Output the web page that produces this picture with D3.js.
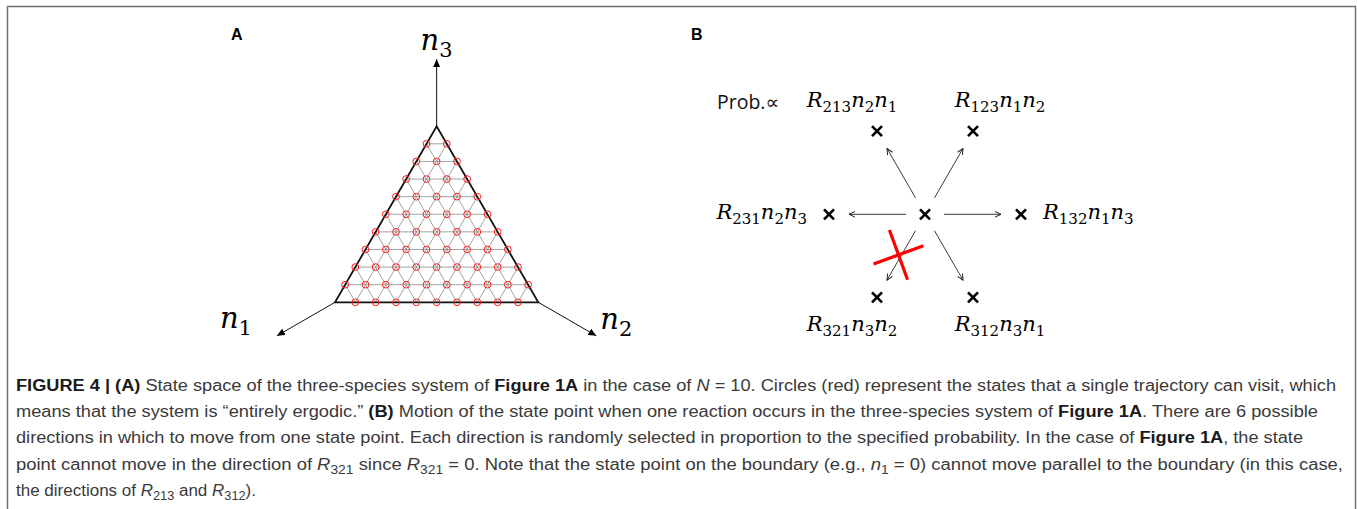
<!DOCTYPE html>
<html>
<head>
<meta charset="utf-8">
<script src="https://cdn.jsdelivr.net/npm/d3@7"></script>
<style>
  body { margin: 0; background: #fff; }
  svg { display: block; }
</style>
</head>
<body>
<svg id="fig" width="1357" height="509"></svg>
<script>
// ---- data ----
var N = 10;
var axisSubs = ["1", "2", "3"];
var excludedStates = [[10, 0, 0], [0, 10, 0], [0, 0, 10]];
var reactions = ["213", "123", "132", "312", "321", "231"];
var directionAngles = [120, 60, 0, -60, -120, 180];
var blockedReaction = "321";

var captionLines = [
    [["FIGURE 4 | (A)", "b"], [" State space of the three-species system of "], ["Figure 1A", "b"],
     [" in the case of "], ["N", "i"], [" = 10. Circles (red) represent the states that a single trajectory can visit, which"]],
    [["means that the system is \u201centirely ergodic.\u201d "], ["(B)", "b"],
     [" Motion of the state point when one reaction occurs in the three-species system of "], ["Figure 1A", "b"],
     [". There are 6 possible"]],
    [["directions in which to move from one state point. Each direction is randomly selected in proportion to the specified probability. In the case of "],
     ["Figure 1A", "b"], [", the state"]],
    [["point cannot move in the direction of "], ["R", "i"], ["321", "sub"], [" since "], ["R", "i"], ["321", "sub"],
     [" = 0. Note that the state point on the boundary (e.g., "], ["n", "i"], ["1", "sub"],
     [" = 0) cannot move parallel to the boundary (in this case,"]],
    [["the directions of "], ["R", "i"], ["213", "sub"], [" and "], ["R", "i"], ["312", "sub"], [")."]]
];
var captionWidths = [1320, 1302, 1287, 1327, 240];

var svg = d3.select("#fig");

// outer frame
svg.append("rect")
    .attr("x", 7.5).attr("y", 6.5)
    .attr("width", 1348).attr("height", 600)
    .attr("fill", "none")
    .attr("stroke", "#707070")
    .attr("stroke-width", 1.5);

var defs = svg.append("defs");
defs.append("marker")
    .attr("id", "solidHead")
    .attr("viewBox", "-8 -4 9 8")
    .attr("refX", 0).attr("refY", 0)
    .attr("markerWidth", 9).attr("markerHeight", 8)
    .attr("markerUnits", "userSpaceOnUse")
    .attr("orient", "auto")
    .append("path")
    .attr("d", "M-8,-3.6L0,0L-8,3.6Z")
    .attr("fill", "#000");
defs.append("marker")
    .attr("id", "openHead")
    .attr("viewBox", "-7 -4 8 8")
    .attr("refX", 0).attr("refY", 0)
    .attr("markerWidth", 8).attr("markerHeight", 8)
    .attr("markerUnits", "userSpaceOnUse")
    .attr("orient", "auto")
    .append("path")
    .attr("d", "M-6,-2.8L0,0L-6,2.8")
    .attr("fill", "none")
    .attr("stroke", "#222")
    .attr("stroke-width", 1);

// panel labels
svg.append("text").attr("x", 231).attr("y", 40)
    .style("font", "bold 16px 'Liberation Sans', Arial, sans-serif").text("A");
svg.append("text").attr("x", 691).attr("y", 40)
    .style("font", "bold 16px 'Liberation Sans', Arial, sans-serif").text("B");

// ---- panel A: ternary state space ----
var triLeft = 335, triRight = 538.3, triBase = 302.3;
var side = triRight - triLeft;
var h = side * Math.sqrt(3) / 2;

var xs = d3.scaleLinear().domain([0, N]).range([triLeft, triRight]);
var ys = d3.scaleLinear().domain([0, N]).range([triBase, triBase - h]);

function px(s) { return xs(s[1] + s[2] / 2); }
function py(s) { return ys(s[2]); }

var gA = svg.append("g");

// lattice lines (constant n1, n2, n3)
var latticeSegs = [];
d3.range(1, N).forEach(function (k) {
    latticeSegs.push([[N - k, 0, k], [0, N - k, k]]);   // n3 = k
    latticeSegs.push([[k, N - k, 0], [k, 0, N - k]]);   // n1 = k
    latticeSegs.push([[N - k, k, 0], [0, k, N - k]]);   // n2 = k
});
gA.selectAll(".lat")
    .data(latticeSegs)
    .enter()
    .append("line")
    .attr("class", "lat")
    .attr("x1", function (d) { return px(d[0]); })
    .attr("y1", function (d) { return py(d[0]); })
    .attr("x2", function (d) { return px(d[1]); })
    .attr("y2", function (d) { return py(d[1]); })
    .attr("stroke", "#8c8c8c")
    .attr("stroke-width", 0.8);

// triangle border
var corners = [[N, 0, 0], [0, N, 0], [0, 0, N]];
gA.append("path")
    .attr("d", d3.line()(corners.map(function (c) { return [px(c), py(c)]; })) + "Z")
    .attr("fill", "none")
    .attr("stroke", "#111")
    .attr("stroke-width", 1.8);

// reachable states
var states = [];
d3.range(0, N + 1).forEach(function (n3) {
    d3.range(0, N - n3 + 1).forEach(function (n2) {
        var s = [N - n2 - n3, n2, n3];
        var skip = excludedStates.some(function (e) {
            return e[0] === s[0] && e[1] === s[1] && e[2] === s[2];
        });
        if (!skip) states.push(s);
    });
});
gA.selectAll(".state")
    .data(states)
    .enter()
    .append("circle")
    .attr("class", "state")
    .attr("cx", px)
    .attr("cy", py)
    .attr("r", 3.4)
    .attr("fill", "none")
    .attr("stroke", "#ff1a1a")
    .attr("stroke-width", 1);

// axes n1, n2, n3
var cx0 = (px(corners[0]) + px(corners[1]) + px(corners[2])) / 3;
var cy0 = (py(corners[0]) + py(corners[1]) + py(corners[2])) / 3;
var axisLen = 67;
var axisLabelOffsets = [[-25, -8], [4, -7], [0, -9]];
corners.forEach(function (c, i) {
    var x1 = px(c), y1 = py(c);
    var dx = x1 - cx0, dy = y1 - cy0, L = Math.sqrt(dx * dx + dy * dy);
    var x2 = x1 + dx / L * axisLen, y2 = y1 + dy / L * axisLen;
    gA.append("line")
        .attr("x1", x1).attr("y1", y1).attr("x2", x2).attr("y2", y2)
        .attr("stroke", "#111").attr("stroke-width", 1)
        .attr("marker-end", "url(#solidHead)");
    var lab = gA.append("text")
        .attr("x", x2 + axisLabelOffsets[i][0])
        .attr("y", y2 + axisLabelOffsets[i][1])
        .attr("text-anchor", i === 0 ? "end" : i === 1 ? "start" : "middle")
        .style("font-family", "'DejaVu Serif', serif");
    lab.append("tspan").style("font-style", "italic").style("font-size", "29px").text("n");
    lab.append("tspan").attr("dy", 7).style("font-size", "21px").text(axisSubs[i]);
});

// ---- panel B: possible moves ----
var bx = 925, by = 214.3, hexR = 96;
var gB = svg.append("g");

function cross(g, x, y) {
    g.append("path")
        .attr("d", "M" + (x - 5) + "," + (y - 5) + "L" + (x + 5) + "," + (y + 5) +
                   "M" + (x - 5) + "," + (y + 5) + "L" + (x + 5) + "," + (y - 5))
        .attr("stroke", "#000")
        .attr("stroke-width", 2.6);
}

cross(gB, bx, by);

reactions.forEach(function (r, i) {
    var a = directionAngles[i] * Math.PI / 180;
    var ux = Math.cos(a), uy = -Math.sin(a);
    gB.append("line")
        .attr("x1", bx + ux * 19).attr("y1", by + uy * 19)
        .attr("x2", bx + ux * 76).attr("y2", by + uy * 76)
        .attr("stroke", "#222").attr("stroke-width", 0.9)
        .attr("marker-end", "url(#openHead)");
    var tx = bx + ux * hexR, ty = by + uy * hexR;
    cross(gB, tx, ty);

    var lx, ly, anchor;
    if (Math.abs(uy) < 0.01) {
        lx = tx + (ux > 0 ? 22 : -22); ly = ty + 5;
        anchor = ux > 0 ? "start" : "end";
    } else {
        lx = tx + (ux > 0 ? 27 : -25); ly = ty + (uy < 0 ? -24.5 : 33.5);
        anchor = "middle";
    }
    var lab = gB.append("text")
        .attr("x", lx).attr("y", ly)
        .attr("text-anchor", anchor)
        .style("font-family", "'DejaVu Serif', serif");
    lab.append("tspan").style("font-style", "italic").style("font-size", "21px").text("R");
    lab.append("tspan").attr("dy", 5).style("font-size", "15px").text(r);
    lab.append("tspan").attr("dy", -5).style("font-style", "italic").style("font-size", "21px").text("n");
    lab.append("tspan").attr("dy", 5).style("font-size", "15px").text(r[0]);
    lab.append("tspan").attr("dy", -5).style("font-style", "italic").style("font-size", "21px").text("n");
    lab.append("tspan").attr("dy", 5).style("font-size", "15px").text(r[1]);

    if (r === blockedReaction) {
        var mx = bx + ux * 48 - 2.5, my = by + uy * 48 - 1;
        var b = 20 * Math.PI / 180, hl = 26.5;
        [[Math.cos(b), -Math.sin(b)], [Math.sin(b), Math.cos(b)]].forEach(function (v) {
            gB.append("line")
                .attr("x1", mx - v[0] * hl).attr("y1", my - v[1] * hl)
                .attr("x2", mx + v[0] * hl).attr("y2", my + v[1] * hl)
                .attr("stroke", "#ff0000").attr("stroke-width", 3.2);
        });
    }
});

gB.append("text")
    .attr("x", 717).attr("y", 109)
    .style("font", "19.5px 'Open Sans', 'DejaVu Sans', sans-serif")
    .attr("fill", "#111")
    .text("Prob.\u221d");

// ---- caption ----
var capY = [391, 417, 443, 469.5, 495.5];
captionLines.forEach(function (segs, li) {
    var t = svg.append("text")
        .attr("x", 16).attr("y", capY[li])
        .attr("textLength", captionWidths[li])
        .attr("lengthAdjust", "spacingAndGlyphs")
        .style("font-family", "'Liberation Sans', Arial, sans-serif")
        .style("font-size", "16px")
        .attr("fill", "#3a3a3a");
    var shifted = false;
    segs.forEach(function (s) {
        var kind = s[1] || "";
        var ts = t.append("tspan").text(s[0]);
        if (kind === "sub") {
            ts.attr("dy", 4).style("font-size", "12px");
            shifted = true;
        } else {
            if (shifted) { ts.attr("dy", -4); shifted = false; }
            if (kind === "b") ts.style("font-weight", "bold").attr("fill", "#1a1a1a");
            if (kind === "i") ts.style("font-style", "italic");
        }
    });
});
</script>
</body>
</html>
